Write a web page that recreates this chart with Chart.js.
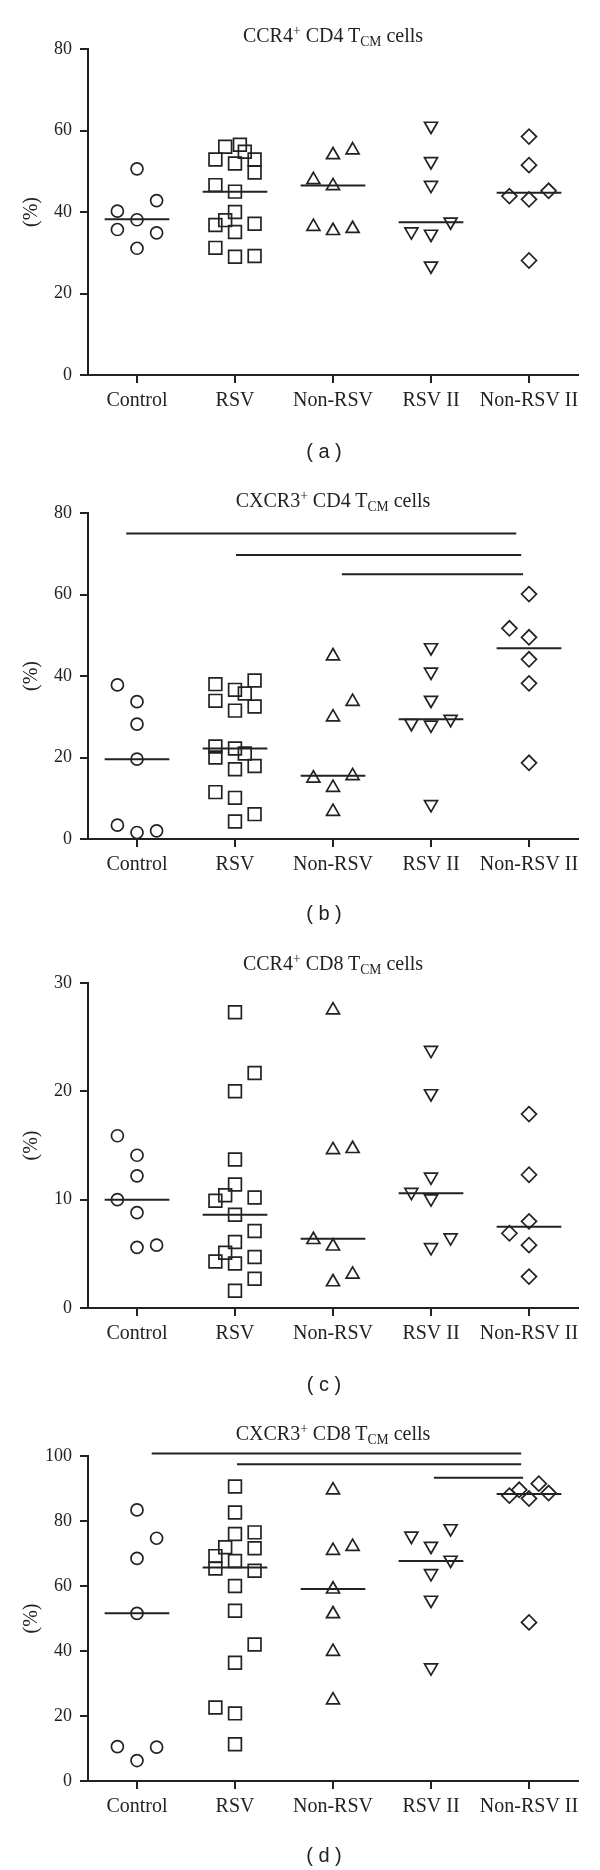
<!DOCTYPE html>
<html>
<head>
<meta charset="utf-8">
<script src="https://cdn.jsdelivr.net/npm/chart.js@4"></script>
<style>
  html, body { margin: 0; padding: 0; background: #fff; }
  #page { position: relative; width: 600px; height: 1870px; overflow: hidden; }
  .panel { position: absolute; left: 0; width: 600px; }
  .panel canvas { display: block; }
  .title { position: absolute; left: 133px; width: 400px; text-align: center; white-space: nowrap;
           font: 20px "Liberation Serif", serif; line-height: 24px; color: #222; }
  .title sup, .title sub { font-size: 0.68em; line-height: 0; }
  .title sup { vertical-align: 0.55em; }
  .title sub { vertical-align: -0.3em; }
  .caption { position: absolute; left: 274px; width: 100px; text-align: center;
             font: 20px "Liberation Sans", sans-serif; line-height: 24px; color: #222; }
</style>
</head>
<body>
<div id="page"></div>
<script>
// groups on the x axis
const groups = ["Control", "RSV", "Non-RSV", "RSV II", "Non-RSV II"];

// (a) CCR4+ CD4 TCM cells, % per subject; lanes = horizontal spread in tenths of a group
const aValues = [
  [50.6, 42.8, 40.2, 38.1, 35.7, 34.9, 31.1],
  [56.0, 56.5, 54.8, 52.9, 51.9, 52.9, 49.7, 46.6, 45.0, 40.0, 38.0, 36.8, 37.1, 35.1, 31.2, 29.0, 29.2],
  [55.2, 54.0, 47.9, 46.4, 36.4, 35.4, 35.9],
  [61.1, 52.4, 46.6, 37.6, 35.2, 34.6, 26.8],
  [58.5, 51.5, 45.2, 43.9, 43.1, 28.1]
];
const aLanes = [
  [0, 2, -2, 0, -2, 2, 0],
  [-1, 0.5, 1, -2, 0, 2, 2, -2, 0, 0, -1, -2, 2, 0, -2, 0, 2],
  [2, 0, -2, 0, -2, 0, 2],
  [0, 0, 0, 2, -2, 0, 0],
  [0, 0, 2, -2, 0, 0]
];
const aMedians = [38.2, 45.0, 46.5, 37.5, 44.7];

// (b) CXCR3+ CD4 TCM cells
const bValues = [
  [37.8, 33.7, 28.2, 19.6, 3.4, 1.6, 2.0],
  [38.9, 38.0, 36.6, 35.7, 33.9, 32.5, 31.5, 22.7, 22.2, 20.0, 21.0, 17.9, 17.1, 11.5, 10.1, 6.1, 4.3],
  [44.9, 33.7, 29.9, 15.5, 14.9, 12.6, 6.7],
  [47.0, 41.0, 34.1, 29.4, 28.4, 28.0, 8.5],
  [60.1, 51.7, 49.5, 44.1, 38.2, 18.7]
];
const bLanes = [
  [-2, 0, 0, 0, -2, 0, 2],
  [2, -2, 0, 1, -2, 2, 0, -2, 0, -2, 1, 2, 0, -2, 0, 2, 0],
  [0, 2, 0, 2, -2, 0, 0],
  [0, 0, 0, 2, -2, 0, 0],
  [0, -2, 0, 0, 0, 0]
];
const bMedians = [19.6, 22.2, 15.5, 29.4, 46.8];
// significance bars: from group, to group, level
const bBarFrom = [-0.11, 1.01, 2.09];
const bBarTo = [3.87, 3.92, 3.94];
const bBarLevel = [75.0, 69.7, 65.0];

// (c) CCR4+ CD8 TCM cells
const cValues = [
  [15.9, 14.1, 12.2, 10.0, 8.8, 5.6, 5.8],
  [27.3, 21.7, 20.0, 13.7, 11.4, 10.4, 9.9, 10.2, 8.6, 7.1, 6.1, 5.1, 4.3, 4.7, 4.1, 2.7, 1.6],
  [27.5, 14.6, 14.7, 6.3, 5.7, 3.1, 2.4],
  [23.8, 19.8, 12.1, 10.7, 10.1, 6.5, 5.6],
  [17.9, 12.3, 8.0, 6.9, 5.8, 2.9]
];
const cLanes = [
  [-2, 0, 0, -2, 0, 0, 2],
  [0, 2, 0, 0, 0, -1, -2, 2, 0, 2, 0, -1, -2, 2, 0, 2, 0],
  [0, 0, 2, -2, 0, 2, 0],
  [0, 0, 0, -2, 0, 2, 0],
  [0, 0, 0, -2, 0, 0]
];
const cMedians = [10.0, 8.6, 6.4, 10.6, 7.5];

// (d) CXCR3+ CD8 TCM cells
const dValues = [
  [83.4, 74.7, 68.5, 51.6, 10.6, 10.4, 6.3],
  [90.6, 82.6, 76.0, 76.5, 71.9, 71.6, 69.2, 67.7, 65.4, 64.7, 60.0, 52.4, 42.0, 36.4, 22.6, 20.8, 11.3],
  [89.5, 72.1, 70.9, 59.0, 51.4, 39.8, 24.9],
  [77.7, 75.4, 72.3, 68.0, 63.9, 55.7, 34.9],
  [91.5, 89.6, 88.6, 87.8, 86.9, 48.8]
];
const dLanes = [
  [0, 2, 0, 0, -2, 2, 0],
  [0, 0, 0, 2, -1, 2, -2, 0, -2, 2, 0, 0, 2, 0, -2, 0, 0],
  [0, 2, 0, 0, 0, 0, 0],
  [2, -2, 0, 2, 0, 0, 0],
  [1, -1, 2, -2, 0, 0]
];
const dMedians = [51.6, 65.7, 59.1, 67.7, 88.3];
const dBarFrom = [0.15, 1.02, 3.03];
const dBarTo = [3.92, 3.92, 3.94];
const dBarLevel = [100.8, 97.5, 93.3];

const ink = "#222";
const markerStyles = ["circle", "rect", "triangle", "triangle", "rectRot"];
const markerRadius = [6, 9, 7.5, 7.5, 7.5];
const markerRotation = [0, 0, 0, 180, 0];

const panels = [
  { label: "a", title: 'CCR4<sup>+</sup> CD4 T<sub>CM</sub> cells', values: aValues, lanes: aLanes, medians: aMedians,
    max: 80, step: 20, canvasTop: 0, height: 465, plotTop: 49, plotBottom: 375, titleY: 35, captionY: 451 },
  { label: "b", title: 'CXCR3<sup>+</sup> CD4 T<sub>CM</sub> cells', values: bValues, lanes: bLanes, medians: bMedians,
    barFrom: bBarFrom, barTo: bBarTo, barLevel: bBarLevel,
    max: 80, step: 20, canvasTop: 465, height: 470, plotTop: 513, plotBottom: 839, titleY: 500, captionY: 913 },
  { label: "c", title: 'CCR4<sup>+</sup> CD8 T<sub>CM</sub> cells', values: cValues, lanes: cLanes, medians: cMedians,
    max: 30, step: 10, canvasTop: 935, height: 470, plotTop: 983, plotBottom: 1308, titleY: 963, captionY: 1384 },
  { label: "d", title: 'CXCR3<sup>+</sup> CD8 T<sub>CM</sub> cells', values: dValues, lanes: dLanes, medians: dMedians,
    barFrom: dBarFrom, barTo: dBarTo, barLevel: dBarLevel,
    max: 100, step: 20, canvasTop: 1405, height: 465, plotTop: 1456, plotBottom: 1781, titleY: 1433, captionY: 1855 }
];

const page = document.getElementById("page");
panels.forEach(makePanel);

function makePanel(p) {
  const box = document.createElement("div");
  box.className = "panel";
  box.style.top = p.canvasTop + "px";
  box.style.height = p.height + "px";
  const canvas = document.createElement("canvas");
  canvas.width = 600;
  canvas.height = p.height;
  box.appendChild(canvas);
  page.appendChild(box);

  const title = document.createElement("div");
  title.className = "title";
  title.innerHTML = p.title;
  title.style.top = (p.titleY - 12) + "px";
  page.appendChild(title);

  const caption = document.createElement("div");
  caption.className = "caption";
  caption.textContent = "( " + p.label + " )";
  caption.style.top = (p.captionY - 12) + "px";
  page.appendChild(caption);

  const datasets = [];
  groups.forEach(function (g, i) {
    datasets.push({
      label: g,
      data: p.values[i].map(function (v, k) { return { x: i + p.lanes[i][k] * 0.1, y: v }; }),
      pointStyle: markerStyles[i],
      pointRadius: markerRadius[i],
      pointRotation: markerRotation[i],
      pointBorderWidth: 1.7,
      pointBorderColor: ink,
      pointBackgroundColor: "rgba(0,0,0,0)"
    });
    // median line
    datasets.push({
      data: [{ x: i - 0.33, y: p.medians[i] }, { x: i + 0.33, y: p.medians[i] }],
      showLine: true, pointRadius: 0, borderWidth: 2, borderColor: ink
    });
  });
  if (p.barLevel) {
    p.barLevel.forEach(function (lv, k) {
      datasets.push({
        data: [{ x: p.barFrom[k], y: lv }, { x: p.barTo[k], y: lv }],
        showLine: true, pointRadius: 0, borderWidth: 2, borderColor: ink, clip: false
      });
    });
  }

  new Chart(canvas.getContext("2d"), {
    type: "scatter",
    data: { datasets: datasets },
    options: {
      responsive: false,
      animation: false,
      events: [],
      layout: { padding: { left: 0, right: 22, top: p.plotTop - p.canvasTop, bottom: 0 } },
      plugins: { legend: { display: false }, tooltip: { enabled: false } },
      scales: {
        x: {
          type: "linear",
          min: -0.5,
          max: 4.5,
          afterBuildTicks: function (s) { s.ticks = groups.map(function (g, i) { return { value: i }; }); },
          afterFit: function (s) { s.height = p.canvasTop + p.height - p.plotBottom; },
          ticks: {
            autoSkip: false, maxRotation: 0, padding: 6, color: ink,
            font: { family: "'Liberation Serif', serif", size: 20 },
            callback: function (v) { return groups[v]; }
          },
          grid: { drawOnChartArea: false, drawTicks: true, tickLength: 8, color: ink, lineWidth: 2 },
          border: { display: true, color: ink, width: 2 }
        },
        y: {
          min: 0,
          max: p.max,
          afterFit: function (s) { s.width = 88; },
          ticks: {
            stepSize: p.step, padding: 8, color: ink,
            font: { family: "'Liberation Serif', serif", size: 18 }
          },
          title: {
            display: true, text: "(%)", color: ink, padding: { top: 20, bottom: 0 },
            font: { family: "'Liberation Serif', serif", size: 20 }
          },
          grid: { drawOnChartArea: false, drawTicks: true, tickLength: 8, color: ink, lineWidth: 2 },
          border: { display: true, color: ink, width: 2 }
        }
      }
    }
  });
}
</script>
</body>
</html>
